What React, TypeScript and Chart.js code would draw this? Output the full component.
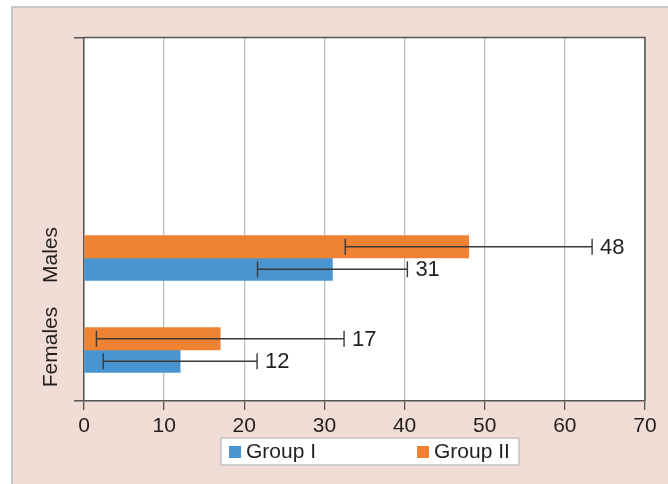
import { useEffect, useRef } from 'react';
import { Chart, registerables } from 'chart.js';

Chart.register(...registerables);

// Categories (bottom to top) and series values
const categories = ['Females', 'Males'];
const seriesNames = ['Group I', 'Group II'];
const groupI = [12, 31];
const groupII = [17, 48];
const groupIErr = [9.6, 9.35];
const groupIIErr = [15.45, 15.4];
const xTickMin = 0;
const xTickMax = 70;
const xTickStep = 10;

const BLUE = '#4a95d0';
const ORANGE = '#f08331';
const FONT = '"Liberation Sans", Arial, sans-serif';
const TEXT = '#231f20';
const AXIS = '#555555';

const Y_MIN = -0.554;
const Y_MAX = 3.397;

const annotatePlugin = {
  id: 'annotate',
  beforeDraw(chart: any) {
    const { ctx, width, height, chartArea: a } = chart;
    ctx.save();
    ctx.fillStyle = '#ffffff';
    ctx.fillRect(0, 0, width, height);
    ctx.fillStyle = '#f0ddd5';
    ctx.fillRect(12, 8, width - 12, height - 8);
    ctx.strokeStyle = '#c8c8c8';
    ctx.lineWidth = 2;
    ctx.beginPath();
    ctx.moveTo(11, 7);
    ctx.lineTo(width, 7);
    ctx.moveTo(12, 7);
    ctx.lineTo(12, height);
    ctx.stroke();
    ctx.fillStyle = '#ffffff';
    ctx.fillRect(a.left, a.top, a.right - a.left, a.bottom - a.top);
    ctx.restore();
  },
  afterDatasetsDraw(chart: any) {
    const { ctx } = chart;
    const xs = chart.scales.x;
    ctx.save();
    chart.data.datasets.forEach((ds: any, i: number) => {
      const meta = chart.getDatasetMeta(i);
      meta.data.forEach((bar: any, j: number) => {
        const v = ds.data[j].x;
        const e = ds.errors[j];
        const x1 = xs.getPixelForValue(v - e);
        const x2 = xs.getPixelForValue(v + e);
        const y = bar.y;
        ctx.strokeStyle = '#3a3a3a';
        ctx.lineWidth = 1.4;
        ctx.beginPath();
        ctx.moveTo(x1, y);
        ctx.lineTo(x2, y);
        ctx.moveTo(x1, y - 8);
        ctx.lineTo(x1, y + 8);
        ctx.moveTo(x2, y - 8);
        ctx.lineTo(x2, y + 8);
        ctx.stroke();
        ctx.fillStyle = TEXT;
        ctx.font = `22px ${FONT}`;
        ctx.textAlign = 'left';
        ctx.textBaseline = 'middle';
        ctx.fillText(String(v), x2 + 8, y + 1);
      });
    });
    ctx.restore();
  },
  afterDraw(chart: any) {
    const { ctx, chartArea: a } = chart;
    const ys = chart.scales.y;
    ctx.save();
    // top and right frame of the plot
    ctx.strokeStyle = AXIS;
    ctx.lineWidth = 1.5;
    ctx.beginPath();
    ctx.moveTo(a.left, a.top);
    ctx.lineTo(a.right, a.top);
    ctx.lineTo(a.right, a.bottom);
    ctx.stroke();

    // category labels, rotated
    ctx.fillStyle = TEXT;
    ctx.font = `21px ${FONT}`;
    ctx.textAlign = 'center';
    ctx.textBaseline = 'middle';
    categories.forEach((c, i) => {
      const y = ys.getPixelForValue(i) - 3;
      ctx.save();
      ctx.translate(a.left - 33, y);
      ctx.rotate(-Math.PI / 2);
      ctx.fillText(c, 0, 0);
      ctx.restore();
    });

    // legend box
    const bx = 221, by = 438, bw = 298, bh = 27;
    ctx.fillStyle = '#ffffff';
    ctx.fillRect(bx, by, bw, bh);
    ctx.strokeStyle = '#c4c4c4';
    ctx.lineWidth = 1.5;
    ctx.strokeRect(bx, by, bw, bh);
    const colors = [BLUE, ORANGE];
    const itemX = [229, 417];
    seriesNames.forEach((name, i) => {
      ctx.fillStyle = colors[i];
      ctx.fillRect(itemX[i], by + 8, 12, 12);
      ctx.fillStyle = TEXT;
      ctx.font = `21px ${FONT}`;
      ctx.textAlign = 'left';
      ctx.textBaseline = 'middle';
      ctx.fillText(name, itemX[i] + 17, by + 14);
    });
    ctx.restore();
  },
};

export default function App() {
  const canvasRef = useRef<HTMLCanvasElement | null>(null);

  useEffect(() => {
    if (!canvasRef.current) return;
    const chart = new Chart(canvasRef.current, {
      type: 'bar',
      data: {
        datasets: [
          {
            label: seriesNames[1],
            data: categories.map((_, i) => ({ x: groupII[i], y: i })),
            errors: groupIIErr,
            backgroundColor: ORANGE,
            barThickness: 22.5,
          } as any,
          {
            label: seriesNames[0],
            data: categories.map((_, i) => ({ x: groupI[i], y: i })),
            errors: groupIErr,
            backgroundColor: BLUE,
            barThickness: 22.5,
          } as any,
        ],
      },
      options: {
        indexAxis: 'y',
        responsive: false,
        animation: false,
        devicePixelRatio: 1,
        layout: { padding: { left: 0, top: 37.5, right: 23, bottom: 0 } },
        plugins: {
          legend: { display: false },
          tooltip: { enabled: false },
        },
        scales: {
          x: {
            type: 'linear',
            min: xTickMin,
            max: xTickMax,
            ticks: {
              stepSize: xTickStep,
              color: TEXT,
              font: { family: FONT, size: 21 },
              padding: 4,
            },
            grid: {
              color: '#bfbfbf',
              lineWidth: 1.3,
              tickColor: AXIS,
              tickLength: 9,
            },
            border: { color: AXIS, width: 1.5 },
            afterFit: (s: any) => {
              s.height = 83;
            },
          },
          y: {
            type: 'linear',
            min: Y_MIN,
            max: Y_MAX,
            offset: false,
            afterBuildTicks: (s: any) => {
              s.ticks = [{ value: Y_MIN }, { value: Y_MAX }];
            },
            ticks: { display: false },
            grid: {
              offset: false,
              drawOnChartArea: false,
              tickColor: AXIS,
              tickLength: 10,
              lineWidth: 1.5,
            },
            border: { color: AXIS, width: 1.5 },
            afterFit: (s: any) => {
              s.width = 84;
            },
          },
        },
      },
      plugins: [annotatePlugin],
    });
    return () => chart.destroy();
  }, []);

  return (
    <div style={{ position: 'absolute', left: 0, top: 0, width: 668, height: 484 }}>
      <canvas ref={canvasRef} width={668} height={484} />
    </div>
  );
}
